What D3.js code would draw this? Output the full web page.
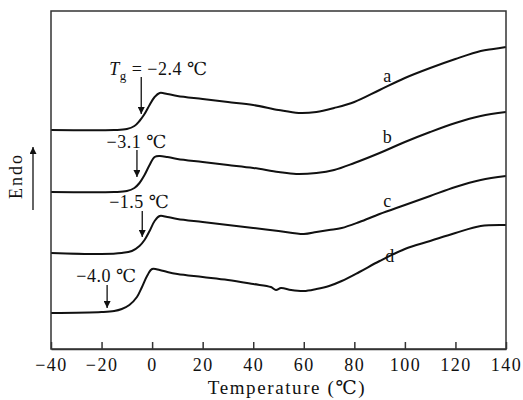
<!DOCTYPE html>
<html>
<head>
<meta charset="utf-8">
<script src="https://cdn.jsdelivr.net/npm/d3@7"></script>
<style>
  body { margin: 0; background: #fff; }
  text { font-family: "Liberation Serif", "DejaVu Serif", serif; fill: #111; }
</style>
</head>
<body>
<svg id="chart"></svg>
<script>
// DSC curves, temperature (°C) vs heat flow (arbitrary units, endo up)
const curveNames = ["a", "b", "c", "d"];
const tempA = [-40, -15, -10, -7, -5, -3, -1, 1, 3, 6, 10, 20, 30, 40, 50, 58, 65, 72, 80, 90, 100, 110, 120, 130, 135, 140];
const flowA = [219, 219, 220, 223, 228, 235, 244, 252, 256, 255, 253, 250, 247, 244, 239, 236, 237, 241, 247, 259, 271, 281, 290, 298, 300, 302];
const tempB = [-40, -15, -10, -7, -5, -3, -1, 1, 3, 6, 10, 20, 30, 40, 50, 57, 65, 72, 80, 90, 100, 110, 120, 130, 140];
const flowB = [157, 157, 158, 161, 166, 174, 184, 192, 193, 192, 190, 187, 184, 181, 177, 175, 176, 179, 186, 196, 207, 217, 226, 233, 237];
const tempC = [-40, -20, -12, -8, -5, -3, -1, 1, 3, 6, 10, 20, 30, 40, 50, 60, 65, 70, 75, 82, 90, 100, 110, 120, 130, 140];
const flowC = [96, 95, 96, 98, 103, 109, 118, 128, 133, 132, 130, 127, 124, 121, 118, 115, 117, 119, 121, 127, 135, 144, 153, 162, 169, 173];
const tempD = [-40, -20, -15, -12, -9, -6, -4, -2, 0, 3, 6, 10, 20, 30, 40, 47, 49, 51, 55, 60, 65, 70, 75, 82, 90, 100, 110, 120, 130, 140];
const flowD = [36, 37, 38, 40, 44, 52, 62, 73, 80, 79, 77, 75, 72, 69, 65, 62, 59, 61, 59, 58, 60, 63, 68, 77, 88, 100, 108, 116, 123, 124];
const xTicks = [-40, -20, 0, 20, 40, 60, 80, 100, 120, 140];

// annotations: glass transition marks
const tgLabels = ["T_g = \u22122.4 \u2103", "\u22123.1 \u2103", "\u22121.5 \u2103", "\u22124.0 \u2103"];
const tgArrowX = [-4.3, -6.0, -3.9, -17.8];
const tgArrowTop = [272, 199, 138, 64];
const tgArrowBottom = [235, 172, 112, 41];
const tgTextX = [-17, -18, -17, -30];
const tgTextY = [274, 201, 141, 67];
const nameX = [93, 93, 93, 94];
const nameY = [267, 206, 142, 87];

const W = 523, H = 400;
const margin = { top: 11, right: 17, bottom: 51, left: 51 };
const width = W - margin.left - margin.right,
      height = H - margin.top - margin.bottom;

const svg = d3.select("#chart").attr("width", W).attr("height", H);
const g = svg.append("g").attr("transform", `translate(${margin.left},${margin.top})`);

const x = d3.scaleLinear().domain([-40, 140]).range([0, width]);
const y = d3.scaleLinear().domain([0, height]).range([height, 0]);

const series = [
  d3.zip(tempA, flowA),
  d3.zip(tempB, flowB),
  d3.zip(tempC, flowC),
  d3.zip(tempD, flowD)
];

const line = d3.line()
  .x(d => x(d[0]))
  .y(d => y(d[1]))
  .curve(d3.curveCatmullRom.alpha(0.5));

g.selectAll(".curve")
  .data(series)
  .enter().append("path")
  .attr("class", "curve")
  .attr("d", line)
  .attr("fill", "none")
  .attr("stroke", "#111")
  .attr("stroke-width", 2);

// frame
g.append("rect")
  .attr("width", width)
  .attr("height", height)
  .attr("fill", "none")
  .attr("stroke", "#333")
  .attr("stroke-width", 1.5);

const xAxis = g.append("g")
  .attr("transform", `translate(0,${height})`)
  .call(d3.axisBottom(x).tickValues(xTicks).tickSizeInner(-7).tickSizeOuter(0).tickPadding(9)
    .tickFormat(d => d < 0 ? "\u2212" + Math.abs(d) : d));
xAxis.select(".domain").attr("stroke", "#333").attr("stroke-width", 1.5);
xAxis.selectAll(".tick line").attr("stroke", "#333").attr("stroke-width", 1.5);
xAxis.selectAll("text")
  .attr("font-family", "Liberation Serif")
  .style("font-size", "18px")
  .style("letter-spacing", "1.5px")
  .attr("fill", "#111");

svg.append("text")
  .attr("x", 287)
  .attr("y", 394)
  .attr("text-anchor", "middle")
  .style("font-size", "19px")
  .style("letter-spacing", "1.6px")
  .text("Temperature (\u2103)");

// y label with arrow
svg.append("text")
  .attr("transform", "translate(22,176) rotate(-90)")
  .attr("text-anchor", "middle")
  .style("font-size", "18px")
  .style("letter-spacing", "2px")
  .text("Endo");

const defs = svg.append("defs");
defs.append("marker")
  .attr("id", "head")
  .attr("viewBox", "0 0 10 10")
  .attr("refX", 10).attr("refY", 5)
  .attr("markerWidth", 7).attr("markerHeight", 7)
  .attr("markerUnits", "userSpaceOnUse")
  .attr("orient", "auto")
  .append("path").attr("d", "M0,0L10,5L0,10Z").attr("fill", "#111");

svg.append("line")
  .attr("x1", 33).attr("y1", 210).attr("x2", 33).attr("y2", 147)
  .attr("stroke", "#111").attr("stroke-width", 1.3)
  .attr("marker-end", "url(#head)");

// Tg arrows
g.selectAll(".tg-arrow")
  .data(tgLabels)
  .enter().append("line")
  .attr("class", "tg-arrow")
  .attr("x1", (d, i) => x(tgArrowX[i]))
  .attr("x2", (d, i) => x(tgArrowX[i]))
  .attr("y1", (d, i) => y(tgArrowTop[i]))
  .attr("y2", (d, i) => y(tgArrowBottom[i]))
  .attr("stroke", "#111").attr("stroke-width", 1.3)
  .attr("marker-end", "url(#head)");

const tgText = g.selectAll(".tg-label")
  .data(tgLabels)
  .enter().append("text")
  .attr("class", "tg-label")
  .attr("x", (d, i) => x(tgTextX[i]))
  .attr("y", (d, i) => y(tgTextY[i]))
  .style("font-size", "18px")
  .style("letter-spacing", "0.5px");

tgText.each(function(d) {
  const t = d3.select(this);
  if (d.startsWith("T_g")) {
    t.append("tspan").style("font-style", "italic").text("T");
    t.append("tspan").attr("dy", 5).style("font-size", "13px").text("g");
    t.append("tspan").attr("dy", -5).text(d.slice(3));
  } else {
    t.text(d);
  }
});

g.selectAll(".name")
  .data(curveNames)
  .enter().append("text")
  .attr("class", "name")
  .attr("x", (d, i) => x(nameX[i]))
  .attr("y", (d, i) => y(nameY[i]))
  .attr("text-anchor", "middle")
  .style("font-size", "18px")
  .text(d => d);
</script>
</body>
</html>
